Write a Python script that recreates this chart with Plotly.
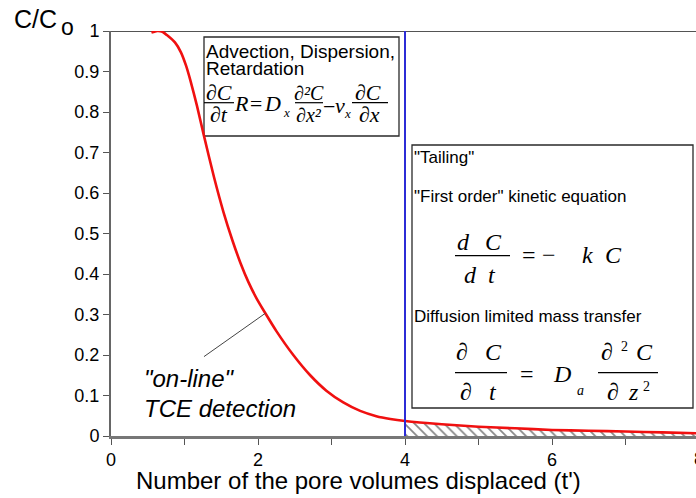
import plotly.graph_objects as go

# Breakthrough curve: relative concentration vs pore volumes displaced
pore_volumes = [0.55, 0.63, 0.70, 0.76, 0.87, 0.95, 1.02, 1.08, 1.17, 1.265, 1.40,
                1.53, 1.65, 1.76, 1.87, 1.98, 2.10, 2.25, 2.48, 2.71, 2.93, 3.16,
                3.39, 3.61, 3.80, 4.00, 4.50, 5.00, 5.50, 6.00, 6.50, 7.00, 7.50, 8.00]
rel_conc = [0.996, 1.000, 0.998, 0.990, 0.972, 0.948, 0.915, 0.878, 0.815, 0.741, 0.640,
            0.553, 0.484, 0.428, 0.380, 0.340, 0.303, 0.259, 0.200, 0.150, 0.112, 0.083,
            0.062, 0.049, 0.042, 0.037, 0.029, 0.023, 0.019, 0.015, 0.013, 0.011, 0.009, 0.0065]

# Start of the tailing region
tail_start = 4.0
# The "on-line" label pointer runs from here to a point on the curve
pointer_from = (1.265, 0.196)
pointer_idx = 16

x_tick_vals = [0, 1, 2, 3, 4, 5, 6, 7, 8]
x_tick_text = ["0", "", "2", "", "4", "", "6", "", "8"]
y_tick_vals = [0, 0.1, 0.2, 0.3, 0.4, 0.5, 0.6, 0.7, 0.8, 0.9, 1.0]
y_tick_text = ["0", "0.1", "0.2", "0.3", "0.4", "0.5", "0.6", "0.7", "0.8", "0.9", "1"]

FIG_W, FIG_H = 696, 498
M_L, M_R, M_T, M_B = 111, 0, 31, 62
PLOT_W = FIG_W - M_L - M_R
PLOT_H = FIG_H - M_T - M_B
X_UNIT = 73.5  # pixels per pore volume

SANS = "Liberation Sans, Arial, sans-serif"
SERIF = "Liberation Serif, Times New Roman, serif"


def px(x):
    return (x - M_L) / PLOT_W


def py(y):
    return (FIG_H - M_B - y) / PLOT_H


fig = go.Figure()

tail_x = [x for x in pore_volumes if x >= tail_start]
tail_y = [c for x, c in zip(pore_volumes, rel_conc) if x >= tail_start]

fig.add_trace(go.Scatter(
    x=tail_x, y=tail_y, mode="lines", line=dict(width=0, color="rgba(0,0,0,0)"),
    fill="tozeroy", fillcolor="white",
    fillpattern=dict(shape="\\", size=7, solidity=0.25, fgcolor="#111111", bgcolor="white"),
    hoverinfo="skip", showlegend=False))

fig.add_trace(go.Scatter(
    x=pore_volumes, y=rel_conc, mode="lines",
    line=dict(color="#f01010", width=2.6, shape="spline", smoothing=0.6),
    cliponaxis=False, showlegend=False))

annotations = []
shapes = []


def text(s, x, base, size, family=SANS, anchor="left", pad=1):
    annotations.append(dict(
        text=s, x=px(x), y=py(base - 0.345 * size), xref="paper", yref="paper",
        xanchor=anchor, yanchor="middle", showarrow=False, borderpad=pad,
        font=dict(family=family, size=size, color="black")))


def glyph(s, cx, base, size):
    text("<i>%s</i>" % s, cx, base, size, family=SERIF, anchor="center", pad=0)


def upright(s, cx, base, size):
    text(s, cx, base, size, family=SERIF, anchor="center", pad=0)


def bar(x0, x1, y):
    shapes.append(dict(type="line", xref="paper", yref="paper",
                       x0=px(x0), x1=px(x1), y0=py(y), y1=py(y),
                       line=dict(color="black", width=1.2)))


def box(x0, y0, x1, y1):
    shapes.append(dict(type="rect", xref="paper", yref="paper", layer="below",
                       x0=px(x0), x1=px(x1), y0=py(y1), y1=py(y0),
                       fillcolor="white", line=dict(color="#2a2a2a", width=1.3)))


# Frame line along the top of the plot
shapes.append(dict(type="line", xref="paper", yref="y", x0=0, x1=1, y0=1, y1=1,
                   layer="below", line=dict(color="#1a1a1a", width=1.5)))
# Boundary of the tailing region
shapes.append(dict(type="line", xref="x", yref="y", x0=tail_start, x1=tail_start,
                   y0=0, y1=1, line=dict(color="#2c2cd6", width=2)))
# Pointer from the label to the curve
shapes.append(dict(type="line", xref="x", yref="y",
                   x0=pointer_from[0], y0=pointer_from[1],
                   x1=pore_volumes[pointer_idx], y1=rel_conc[pointer_idx],
                   line=dict(color="#444444", width=1)))

# Advection-dispersion box
box(204, 37, 399, 136)
text("Advection, Dispersion,", 205, 58, 19, pad=0)
text("Retardation", 205, 75, 19, pad=0)
EQ = 22
SUB = 13
glyph("∂C", 219, 100, EQ)
bar(204, 234, 102.7)
glyph("∂t", 219, 122, EQ)
glyph("R=", 248, 111.5, EQ)
glyph("D", 272, 111.5, EQ); glyph("x", 286.5, 117, SUB)
glyph("∂²C", 309, 100, 20)
bar(295, 323, 102.7)
glyph("∂x²", 309, 122, 20)
upright("−", 328.5, 114, EQ)
glyph("v", 339.5, 113.5, EQ); glyph("x", 347.5, 117.5, SUB)
glyph("∂C", 368, 100, EQ)
bar(352, 388, 102.7)
glyph("∂x", 369.5, 122, EQ)

# Tailing box
box(412, 145, 693, 408)
text("\"Tailing\"", 412, 163.5, 17)
text("\"First order\" kinetic equation", 412, 202.5, 17)
EQ2 = 24
glyph("d", 463.5, 250, EQ2); glyph("C", 493.5, 250, EQ2)
bar(455, 510, 255.7)
glyph("d", 470, 283.3, EQ2); glyph("t", 491.5, 283.3, EQ2)
upright("=", 528.5, 263.3, EQ2)
upright("−", 549, 263.3, EQ2)
glyph("k", 587, 263.3, EQ2); glyph("C", 613.5, 263.3, EQ2)

text("Diffusion limited mass transfer", 412, 322.5, 17)
glyph("∂", 461.5, 360, EQ2); glyph("C", 493.5, 360, EQ2)
bar(455, 507, 372.7)
glyph("∂", 466.5, 400, EQ2); glyph("t", 492.5, 400, EQ2)
upright("=", 526.5, 382, EQ2)
glyph("D", 562, 382, EQ2); glyph("a", 580, 395, 14)
glyph("∂", 606.5, 360, EQ2); upright("2", 624.5, 351.7, 14)
glyph("C", 644, 360, EQ2)
bar(598, 658, 372.7)
glyph("∂", 612.5, 400, EQ2); glyph("z", 633, 400, EQ2)
upright("2", 646.5, 391.7, 14)

# Curve label
text("<i>\"on-line\"</i>", 142, 387, 24)
text("<i>TCE detection</i>", 142, 417, 24)

# Axis titles
text("C/C", 12, 28, 25)
text("o", 59, 35, 23)
text("Number of the pore volumes displaced (t')", 358.5, 489, 24, anchor="center", pad=0)
# Last x tick label sits at the right edge of the figure
text("8", M_L + 8 * X_UNIT, 465, 18, anchor="center")

fig.update_layout(
    width=FIG_W, height=FIG_H,
    margin=dict(l=M_L, r=M_R, t=M_T, b=M_B, pad=0),
    paper_bgcolor="white", plot_bgcolor="white",
    showlegend=False,
    font=dict(family=SANS, size=18, color="black"),
    xaxis=dict(range=[0, PLOT_W / X_UNIT], tickvals=x_tick_vals, ticktext=x_tick_text,
               ticks="outside", ticklen=6, tickwidth=1.2, tickcolor="#555555",
               showline=True, linecolor="#777777", linewidth=2.5,
               showgrid=False, zeroline=False, tickfont=dict(size=18)),
    yaxis=dict(range=[0, 1], tickvals=y_tick_vals, ticktext=y_tick_text,
               ticks="outside", ticklen=6, tickwidth=1.2, tickcolor="#555555",
               showline=True, linecolor="#666666", linewidth=2,
               showgrid=False, zeroline=False, tickfont=dict(size=18)),
    annotations=annotations,
    shapes=shapes,
)

fig.write_html("out.html")
